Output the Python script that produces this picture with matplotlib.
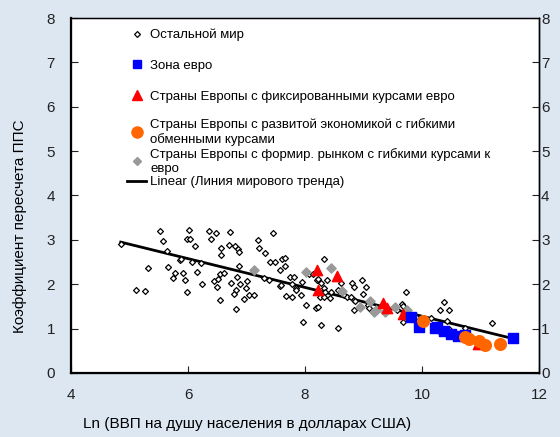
import numpy as np
import matplotlib
matplotlib.use("Agg")
import matplotlib.pyplot as plt
from matplotlib.lines import Line2D

plt.rcParams['font.family'] = ['Liberation Sans', 'DejaVu Sans']

# Остальной мир
world_x = [4.85, 5.11, 5.27, 5.32, 5.52, 5.57, 5.64, 5.66, 5.74, 5.78,
           5.86, 5.88, 5.91, 5.95, 5.99, 6.02, 5.99, 6.03, 6.07, 6.12,
           6.15, 6.23, 6.24, 6.36, 6.39, 6.48, 6.57, 6.56, 6.44, 6.51,
           6.50, 6.54, 6.61, 6.54, 6.71, 6.70, 6.81, 6.85, 6.88, 6.88,
           6.83, 6.74, 6.82, 6.78, 6.89, 6.99, 7.00, 6.95, 6.82, 7.05,
           7.12, 7.20, 7.22, 7.46, 7.32, 7.40, 7.49, 7.61, 7.65, 7.57,
           7.66, 7.30, 7.39, 7.74, 7.81, 7.57, 7.59, 7.77, 7.85, 7.85,
           7.95, 7.68, 7.78, 7.93, 8.02, 7.97, 8.07, 8.13, 8.33, 8.21,
           8.23, 8.27, 8.38, 8.32, 8.34, 8.44, 8.26, 8.33, 8.43, 8.62,
           8.56, 8.67, 8.71, 8.79, 8.80, 8.84, 8.97, 8.99, 9.05, 8.83,
           8.86, 9.07, 9.10, 8.84, 8.19, 8.23, 8.28, 8.56, 9.57, 9.65,
           9.72, 9.67, 9.67, 9.89, 10.15, 10.30, 10.38, 10.47, 10.42, 10.32,
           10.47, 10.73, 11.20]
world_y = [2.90, 1.87, 1.85, 2.36, 3.20, 2.97, 2.75, 2.39, 2.13, 2.25,
           2.55, 2.58, 2.26, 2.09, 1.82, 3.23, 3.02, 3.02, 2.49, 2.86,
           2.28, 2.48, 2.00, 3.19, 3.02, 3.15, 2.81, 2.66, 2.07, 2.11,
           1.94, 2.23, 2.25, 1.64, 3.17, 2.89, 2.86, 2.79, 2.73, 2.41,
           2.16, 2.02, 1.87, 1.79, 2.00, 1.91, 2.08, 1.66, 1.44, 1.76,
           1.76, 3.00, 2.82, 3.16, 2.71, 2.51, 2.50, 2.57, 2.60, 2.32,
           2.40, 2.15, 2.09, 2.16, 2.16, 1.95, 1.98, 2.00, 1.91, 1.87,
           2.06, 1.73, 1.72, 1.76, 1.53, 1.14, 2.24, 2.22, 2.57, 2.09,
           2.12, 2.02, 2.09, 1.92, 1.83, 1.83, 1.72, 1.71, 1.70, 2.03,
           1.87, 1.75, 1.72, 1.72, 2.02, 1.93, 2.09, 1.79, 1.94, 1.64,
           1.62, 1.53, 1.46, 1.42, 1.46, 1.49, 1.09, 1.01, 1.42, 1.55,
           1.82, 1.52, 1.16, 1.27, 1.25, 1.42, 1.60, 1.42, 1.18, 0.89,
           0.99, 1.02, 1.13]

# Зона евро
euro_x = [9.81, 9.95, 10.22, 10.25, 10.38, 10.50, 10.62, 10.73, 11.56]
euro_y = [1.27, 1.04, 1.02, 1.04, 0.95, 0.88, 0.84, 0.86, 0.78]

# Страны Европы с фиксированными курсами евро
fixed_x = [8.21, 8.55, 8.22, 9.34, 9.40, 9.67, 10.96]
fixed_y = [2.32, 2.18, 1.87, 1.57, 1.46, 1.34, 0.65]

# Страны Европы с развитой экономикой с гибкими обменными курсами
adv_x = [10.02, 10.73, 10.81, 10.97, 11.08, 11.33]
adv_y = [1.17, 0.80, 0.76, 0.73, 0.63, 0.65]

# Страны Европы с формир. рынком с гибкими курсами к евро
emg_x = [7.13, 8.01, 8.44, 8.63, 8.94, 9.11, 9.18, 9.21, 9.36, 9.53, 9.75]
emg_y = [2.33, 2.28, 2.36, 1.85, 1.49, 1.62, 1.37, 1.42, 1.38, 1.49, 1.42]

# Linear trend
trend_x = [4.85, 11.57]
trend_y = [2.95, 0.77]

bg = '#dde7f2'
fig = plt.figure(figsize=(5.6, 4.37), dpi=100, facecolor=bg)
ax = fig.add_axes([0.1268, 0.1465, 0.8357, 0.8123])
ax.set_facecolor('white')

ax.plot(trend_x, trend_y, color='black', lw=2, zorder=2)
ax.scatter(world_x, world_y, marker='D', s=9, facecolor='white',
           edgecolor='black', linewidths=0.9, zorder=3)
ax.scatter(emg_x, emg_y, marker='D', s=22, color='#999999', zorder=4)
ax.scatter(fixed_x, fixed_y, marker='^', s=55, color='red', zorder=4)
ax.scatter(euro_x, euro_y, marker='s', s=42, color='#0000ff', zorder=5)
ax.scatter(adv_x, adv_y, marker='o', s=70, color='#ff6600', zorder=6)

ax.set_xlim(4, 12)
ax.set_ylim(0, 8)
ax.set_xticks(range(4, 13, 2))
ax.set_yticks(range(0, 9))
ax.tick_params(direction='in', length=5, labelsize=11, colors='#222222')
ax.tick_params(axis='x', pad=10.5)
ax.tick_params(axis='y', pad=11.5)
for side in ['left', 'bottom']:
    ax.spines[side].set_linewidth(1.6)
for side in ['top', 'right']:
    ax.spines[side].set_linewidth(1.0)

# right-hand scale
ax2 = ax.twinx()
ax2.set_ylim(0, 8)
ax2.set_yticks(range(0, 9))
ax2.tick_params(direction='in', length=5, labelsize=11, colors='#222222', pad=1.5)
ax2.spines['right'].set_linewidth(1.0)

ax.set_xlabel('Ln (ВВП на душу населения в долларах США)', fontsize=11)
ax.xaxis.set_label_coords(0.377, -0.125)
ax.set_ylabel('Коэффициент пересчета ППС', fontsize=11)
ax.yaxis.set_label_coords(-0.095, 0.414)

fs = 9.5
h1 = [Line2D([], [], ls='none', marker='D', ms=3, mfc='white', mec='black', mew=0.9),
      Line2D([], [], ls='none', marker='s', ms=6, color='#0000ff'),
      Line2D([], [], ls='none', marker='^', ms=7, color='red')]
l1 = ['Остальной мир', 'Зона евро', 'Страны Европы с фиксированными курсами евро']
leg1 = ax2.legend(h1, l1, loc='upper left', bbox_to_anchor=(0.12, 0.97),
                  frameon=False, fontsize=fs, borderpad=0, borderaxespad=0,
                  handlelength=1.44, handletextpad=0.3, labelspacing=1.4)
ax2.add_artist(leg1)

h2 = [Line2D([], [], ls='none', marker='o', ms=8, color='#ff6600'),
      Line2D([], [], ls='none', marker='D', ms=4, color='#999999'),
      Line2D([], [], color='black', lw=2)]
l2 = ['Страны Европы с развитой экономикой с гибкими\nобменными курсами',
      'Страны Европы с формир. рынком с гибкими курсами к\nевро',
      'Linear (Линия мирового тренда)']
ax2.legend(h2, l2, loc='upper left', bbox_to_anchor=(0.12, 0.717),
           frameon=False, fontsize=fs, borderpad=0, borderaxespad=0,
           handlelength=1.44, handletextpad=0.3, labelspacing=0.12)

fig.savefig('out.png', dpi=100, facecolor=bg)
